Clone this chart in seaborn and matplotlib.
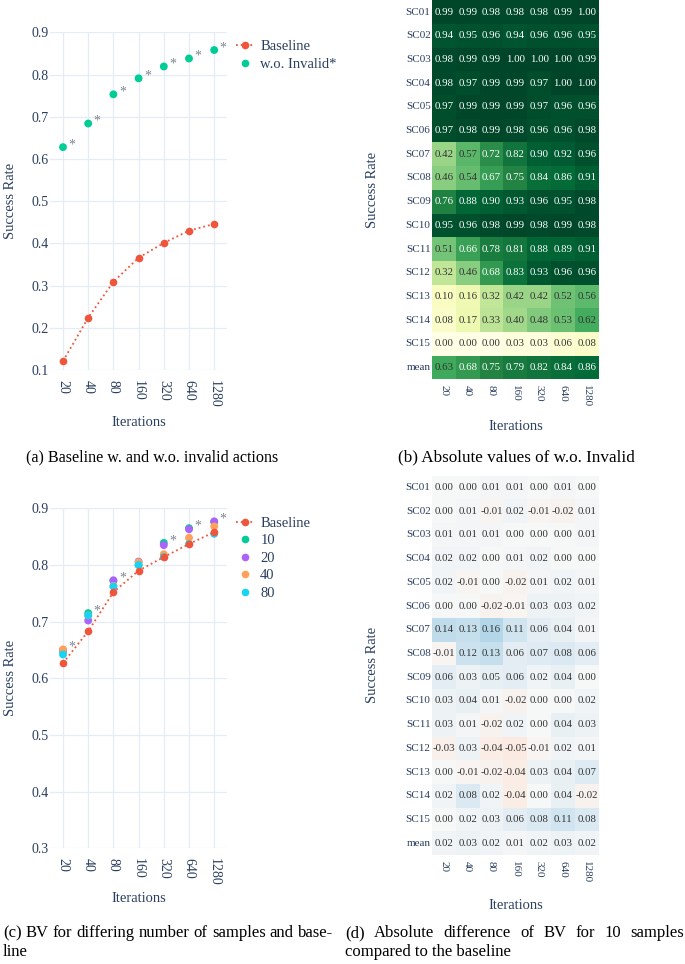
import numpy as np
import pandas as pd
import seaborn as sns
import matplotlib.pyplot as plt
from matplotlib.lines import Line2D

# ---- data ----
iterations = ['20', '40', '80', '160', '320', '640', '1280']

# (a) baseline with / without invalid actions
baseline_a = [0.121, 0.224, 0.309, 0.366, 0.401, 0.430, 0.446]
wo_invalid = [0.628, 0.684, 0.753, 0.791, 0.819, 0.838, 0.858]
star_a = [0, 1, 2, 3, 4, 5, 6]

# (c) BV for different sample counts
baseline_c = [0.627, 0.683, 0.752, 0.790, 0.814, 0.837, 0.858]
bv_10 = [0.648, 0.715, 0.772, 0.800, 0.839, 0.865, 0.876]
bv_20 = [0.650, 0.702, 0.773, 0.806, 0.835, 0.863, 0.877]
bv_40 = [0.651, 0.711, 0.763, 0.805, 0.819, 0.848, 0.868]
bv_80 = [0.642, 0.711, 0.762, 0.800, 0.814, 0.837, 0.855]
sample_labels = ['10', '20', '40', '80']
star_c = [0, 1, 2, 4, 5, 6]

scenarios = ['SC01', 'SC02', 'SC03', 'SC04', 'SC05', 'SC06', 'SC07', 'SC08',
             'SC09', 'SC10', 'SC11', 'SC12', 'SC13', 'SC14', 'SC15', 'mean']

# (b) absolute values of w.o. Invalid
abs_values = [
    [0.99, 0.99, 0.98, 0.98, 0.98, 0.99, 1.00],
    [0.94, 0.95, 0.96, 0.94, 0.96, 0.96, 0.95],
    [0.98, 0.99, 0.99, 1.00, 1.00, 1.00, 0.99],
    [0.98, 0.97, 0.99, 0.99, 0.97, 1.00, 1.00],
    [0.97, 0.99, 0.99, 0.99, 0.97, 0.96, 0.96],
    [0.97, 0.98, 0.99, 0.98, 0.96, 0.96, 0.98],
    [0.42, 0.57, 0.72, 0.82, 0.90, 0.92, 0.96],
    [0.46, 0.54, 0.67, 0.75, 0.84, 0.86, 0.91],
    [0.76, 0.88, 0.90, 0.93, 0.96, 0.95, 0.98],
    [0.95, 0.96, 0.98, 0.99, 0.98, 0.99, 0.98],
    [0.51, 0.66, 0.78, 0.81, 0.88, 0.89, 0.91],
    [0.32, 0.46, 0.68, 0.83, 0.93, 0.96, 0.96],
    [0.10, 0.16, 0.32, 0.42, 0.42, 0.52, 0.56],
    [0.08, 0.17, 0.33, 0.40, 0.48, 0.53, 0.62],
    [0.00, 0.00, 0.00, 0.03, 0.03, 0.06, 0.08],
    [0.63, 0.68, 0.75, 0.79, 0.82, 0.84, 0.86],
]

# (d) difference BV(10 samples) - baseline
diff_values = [
    [0.00, 0.00, 0.01, 0.01, 0.00, 0.01, 0.00],
    [0.00, 0.01, -0.01, 0.02, -0.01, -0.02, 0.01],
    [0.01, 0.01, 0.01, 0.00, 0.00, 0.00, 0.01],
    [0.02, 0.02, 0.00, 0.01, 0.02, 0.00, 0.00],
    [0.02, -0.01, 0.00, -0.02, 0.01, 0.02, 0.01],
    [0.00, 0.00, -0.02, -0.01, 0.03, 0.03, 0.02],
    [0.14, 0.13, 0.16, 0.11, 0.06, 0.04, 0.01],
    [-0.01, 0.12, 0.13, 0.06, 0.07, 0.08, 0.06],
    [0.06, 0.03, 0.05, 0.06, 0.02, 0.04, 0.00],
    [0.03, 0.04, 0.01, -0.02, 0.00, 0.00, 0.02],
    [0.03, 0.01, -0.02, 0.02, 0.00, 0.04, 0.03],
    [-0.03, 0.03, -0.04, -0.05, -0.01, 0.02, 0.01],
    [0.00, -0.01, -0.02, -0.04, 0.03, 0.04, 0.07],
    [0.02, 0.08, 0.02, -0.04, 0.00, 0.04, -0.02],
    [0.00, 0.02, 0.03, 0.06, 0.08, 0.11, 0.08],
    [0.02, 0.03, 0.02, 0.01, 0.02, 0.03, 0.02],
]

# ---- style ----
sns.set_theme(style='white')
plt.rcParams['font.family'] = ['Liberation Serif', 'DejaVu Serif']
INK = '#2a3f5f'
GRID = '#e6ecf5'
STAR = '#7d8591'
RED, GREEN, PURPLE, ORANGE, CYAN = '#EF553B', '#00CC96', '#AB63FA', '#FFA15A', '#19D3F3'

W, H = 685, 964
fig = plt.figure(figsize=(W / 100, H / 100), dpi=100)


def rect(x0, y0, x1, y1):
    return [x0 / W, 1 - y1 / H, (x1 - x0) / W, (y1 - y0) / H]


def style_line_axes(ax, ylim, yticks):
    ax.set_xlim(-0.5, len(iterations) - 0.5)
    ax.set_ylim(*ylim)
    ax.set_yticks(yticks)
    ax.set_yticklabels([f'{t:.1f}' for t in yticks])
    ax.grid(True, color=GRID, linewidth=0.9)
    ax.set_axisbelow(True)
    for s in ax.spines.values():
        s.set_visible(False)
    ax.tick_params(axis='y', length=0, labelsize=10, labelcolor=INK, pad=1)
    ax.tick_params(axis='x', length=0, labelsize=10, labelcolor=INK, pad=7)
    plt.setp(ax.get_xticklabels(), rotation=-90, ha='center', va='top')
    ax.set_xlabel('Iterations', fontsize=10.5, color=INK)
    ax.set_ylabel('Success Rate', fontsize=10.5, color=INK)
    ax.yaxis.set_label_coords(-0.19, 0.5)


def add_stars(ax, idx, tops):
    for i in idx:
        ax.annotate('*', xy=(i, tops[i]), xytext=(4, 1.5), textcoords='offset points',
                    color=STAR, fontsize=10, ha='left', va='center')


def legend_handles(colors):
    hs = [Line2D([], [], color=RED, linestyle=':', linewidth=1.3, marker='o', markersize=5.5,
                 markeredgewidth=0)]
    hs += [Line2D([], [], color=c, linestyle='none', marker='o', markersize=5.5, markeredgewidth=0)
           for c in colors]
    return hs


leg_kw = dict(loc='upper left', frameon=False, fontsize=10.5, handlelength=1.2, handletextpad=0.45,
              labelspacing=0.3, borderaxespad=0, labelcolor=INK)

# ---- (a) ----
ax_a = fig.add_axes(rect(50.4, 32.3, 226.8, 370))
sns.lineplot(x=iterations, y=baseline_a, ax=ax_a, color=RED, linestyle=':', linewidth=1.3,
             marker='o', markersize=5.5, markeredgewidth=0, sort=False)
sns.scatterplot(x=iterations, y=wo_invalid, ax=ax_a, color=GREEN, s=32, edgecolor='none')
style_line_axes(ax_a, (0.1, 0.9), np.arange(0.1, 0.91, 0.1))
add_stars(ax_a, star_a, wo_invalid)
ax_a.xaxis.set_label_coords(0.5, -0.135)
ax_a.legend(legend_handles([GREEN]), ['Baseline', 'w.o. Invalid*'],
            bbox_to_anchor=(1.02, 0.995), **leg_kw)

# ---- (c) ----
ax_c = fig.add_axes(rect(50.4, 508.3, 226.8, 848.3))
sns.lineplot(x=iterations, y=baseline_c, ax=ax_c, color=RED, linestyle=':', linewidth=1.3,
             marker='o', markersize=5.5, markeredgewidth=0, sort=False)
sample_series = [bv_10, bv_20, bv_40, bv_80]
sample_colors = [GREEN, PURPLE, ORANGE, CYAN]
for vals, col in zip(sample_series, sample_colors):
    sns.scatterplot(x=iterations, y=vals, ax=ax_c, color=col, s=32, edgecolor='none')
style_line_axes(ax_c, (0.3, 0.9), np.arange(0.3, 0.91, 0.1))
tops_c = np.max(np.array(sample_series), axis=0)
add_stars(ax_c, star_c, tops_c)
ax_c.xaxis.set_label_coords(0.5, -0.128)
ax_c.legend(legend_handles(sample_colors), ['Baseline'] + sample_labels,
            bbox_to_anchor=(1.02, 0.993), **leg_kw)


# ---- heatmaps ----
def style_heatmap(ax, ylabel_y):
    ax.tick_params(length=0, labelcolor=INK, labelsize=8)
    ax.tick_params(axis='x', pad=4)
    ax.tick_params(axis='y', pad=1)
    ax.set_xticklabels(iterations, rotation=-90, ha='center', va='top')
    ax.set_yticklabels(scenarios, rotation=0)
    ax.set_xlabel('Iterations', fontsize=10.5, color=INK)
    ax.set_ylabel('Success Rate', fontsize=10.5, color=INK)
    ax.xaxis.set_label_coords(0.5, ylabel_y)
    ax.yaxis.set_label_coords(-0.318, 0.5)


ax_b = fig.add_axes(rect(432, 0.2, 598.7, 379.5))
df_b = pd.DataFrame(abs_values, index=scenarios, columns=iterations)
sns.heatmap(df_b, ax=ax_b, cmap='YlGn', vmin=0, vmax=1, cbar=False, annot=True, fmt='.2f',
            annot_kws={'size': 7.8})
for t in ax_b.texts:
    t.set_color('white' if float(t.get_text()) > 0.645 else '#333333')
style_heatmap(ax_b, -0.106)

ax_d = fig.add_axes(rect(432, 475.5, 598.7, 855.2))
df_d = pd.DataFrame(diff_values, index=scenarios, columns=iterations)
sns.heatmap(df_d, ax=ax_d, cmap='RdBu', vmin=-0.55, vmax=0.55, cbar=False, annot=True, fmt='.2f',
            annot_kws={'size': 7.8})
for t in ax_d.texts:
    t.set_color('#333333')
style_heatmap(ax_d, -0.116)

# ---- captions ----
CAP = 12
renderer = fig.canvas.get_renderer()


def justified(x0, x1, y, text, size):
    # spread the words of a caption line across [x0, x1] like a justified paragraph
    words = text.split()
    widths = []
    for w in words:
        t = fig.text(0, 0, w, fontsize=size)
        widths.append(t.get_window_extent(renderer).width)
        t.remove()
    gap = (x1 - x0 - sum(widths)) / (len(words) - 1)
    x = x0
    for w, wd in zip(words, widths):
        fig.text(x / W, 1 - y / H, w, fontsize=size, color='black', ha='left', va='center')
        x += wd + gap


fig.text(152 / W, 1 - 457 / H, '(a) Baseline w. and w.o. invalid actions', ha='center', va='center',
         fontsize=11.6, color='black')
fig.text(516 / W, 1 - 457 / H, '(b) Absolute values of w.o. Invalid', ha='center', va='center',
         fontsize=12.3, color='black')
justified(3, 333, 933, '(c) BV for differing number of samples and base-', CAP)
fig.text(3 / W, 1 - 952 / H, 'line', ha='left', va='center', fontsize=CAP, color='black')
justified(345, 684, 933, '(d) Absolute difference of BV for 10 samples', CAP)
fig.text(345 / W, 1 - 952 / H, 'compared to the baseline', ha='left', va='center', fontsize=CAP,
         color='black')

fig.savefig('out.png', dpi=100)
